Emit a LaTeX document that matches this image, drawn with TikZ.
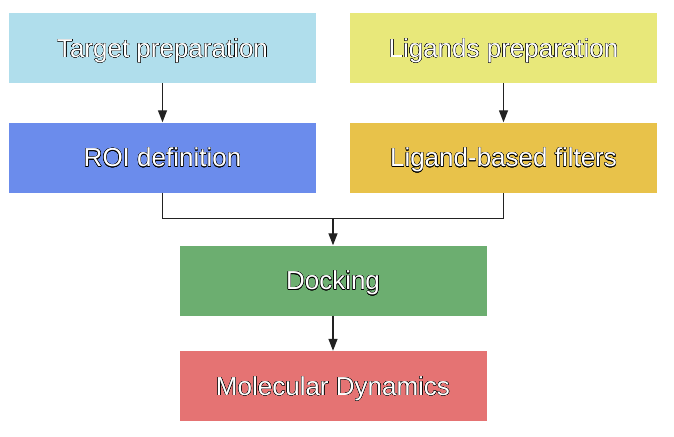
\documentclass[tikz,border=0pt]{standalone}
\usepackage{fontspec}
\setmainfont{Liberation Sans}
\usepackage[copies]{contour}
\contourlength{0.3pt}
\contournumber{16}
\usetikzlibrary{arrows.meta}
\definecolor{cTarget}{RGB}{176,222,236}
\definecolor{cLig}{RGB}{232,232,122}
\definecolor{cROI}{RGB}{107,140,236}
\definecolor{cFilt}{RGB}{232,194,74}
\definecolor{cDock}{RGB}{108,174,112}
\definecolor{cMD}{RGB}{229,115,115}
\definecolor{cLine}{RGB}{34,34,34}
\newcommand{\olt}[1]{\contour{black}{\textcolor{white}{#1}}}
\tikzset{
  stepbox/.style={rectangle, draw=none, minimum width=307pt, minimum height=70pt, inner sep=0pt,
    text height=18.6pt, text depth=0pt,
    font=\fontsize{26}{30}\selectfont},
  conn/.style={draw=cLine, line width=1.3pt},
  arr/.style={conn, -{Triangle[width=9pt,length=12pt]}},
}
\begin{document}
\begin{tikzpicture}[x=1pt,y=-1pt]
\useasboundingbox (0,0) rectangle (674,436);
\node[stepbox, fill=cTarget] (tgt) at (162.5,48) {\olt{Target preparation}};
\node[stepbox, fill=cLig] (lig) at (503.5,48) {\olt{Ligands preparation}};
\node[stepbox, fill=cROI] (roi) at (162.5,157.5) {\olt{ROI definition}};
\node[stepbox, fill=cFilt] (filt) at (503.5,157.5) {\olt{Ligand-based filters}};
\node[stepbox, fill=cDock] (dock) at (333,280.5) {\olt{Docking}};
\node[stepbox, fill=cMD] (md) at (333,386) {\olt{Molecular Dynamics}};
\coordinate (m) at (333,218.5);
\draw[arr] (tgt.south) -- (roi.north);
\draw[arr] (lig.south) -- (filt.north);
\draw[conn] (roi.south) |- (m) -| (filt.south);
\draw[arr] (m) -- (dock.north);
\draw[arr] (dock.south) -- (md.north);
\end{tikzpicture}
\end{document}
